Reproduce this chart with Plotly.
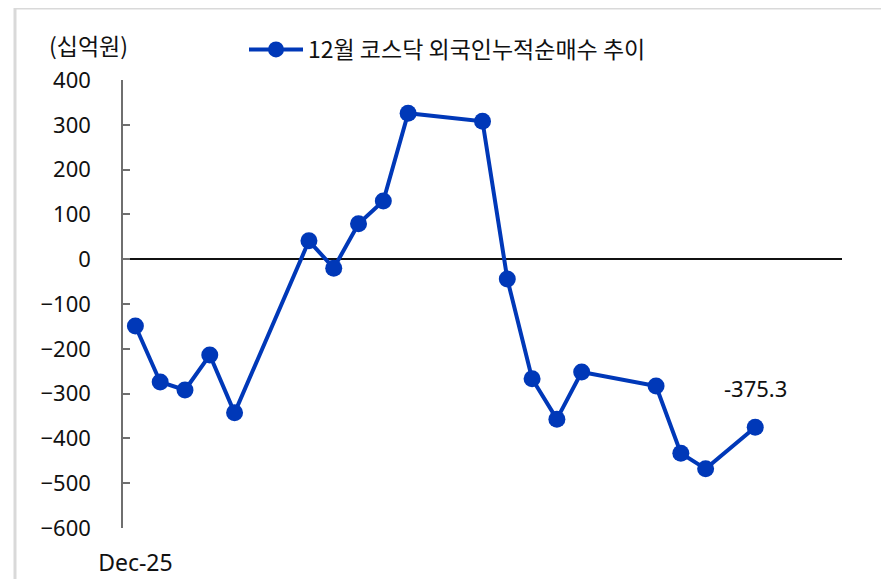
import plotly.graph_objects as go

dates = ["2025-12-01", "2025-12-02", "2025-12-03", "2025-12-04", "2025-12-05",
         "2025-12-08", "2025-12-09", "2025-12-10", "2025-12-11", "2025-12-12",
         "2025-12-15", "2025-12-16", "2025-12-17", "2025-12-18", "2025-12-19",
         "2025-12-22", "2025-12-23", "2025-12-24", "2025-12-26"]
values = [-149, -274, -292, -214, -343,
          41, -20, 79, 130, 326,
          308, -44, -267, -357, -252,
          -283, -433, -468, -375.3]
series_name = "12월 코스닥 외국인누적순매수 추이"
unit_label = "(십억원)"
y_ticks = [400, 300, 200, 100, 0, -100, -200, -300, -400, -500, -600]
x_tick_vals = ["2025-12-01"]
x_tick_text = ["Dec-25"]

FONT = "Noto Sans, Noto Sans CJK KR, sans-serif"
KFONT = "Noto Sans CJK KR, sans-serif"
BLUE = "#0038B8"

# page body has an 8px margin; work in screen pixels and convert
OFF = 8
W, H = 889 - OFF, 579 - OFF
L, R, T, B = 123 - OFF, 842 - OFF, 80 - OFF, 528 - OFF
pw, ph = R - L, B - T
def px(xs):
    return (xs - OFF - L) / pw
def py(ys):
    return (B - (ys - OFF)) / ph

fig = go.Figure()
fig.add_trace(go.Scatter(
    x=dates, y=values, mode="lines+markers", name=series_name,
    line=dict(color=BLUE, width=4),
    marker=dict(color=BLUE, size=17),
))

fig.add_annotation(x=dates[-1], y=values[-1], text=f"{values[-1]:.1f}",
                   showarrow=False, yshift=39, xshift=0,
                   font=dict(family=FONT, size=22, color="#111111"))
fig.add_annotation(xref="paper", yref="paper", x=px(88), y=py(45),
                   text=unit_label, showarrow=False, xanchor="center", yanchor="middle",
                   font=dict(family=KFONT, size=23, color="#111111"))

fig.add_shape(type="rect", xref="paper", yref="paper",
              x0=px(15), x1=px(883), y0=py(600), y1=py(8),
              line=dict(color="#d9d9d9", width=3), layer="below")

fig.update_layout(
    width=W, height=H,
    margin=dict(l=L, r=W - R, t=T, b=H - B, autoexpand=False),
    paper_bgcolor="white", plot_bgcolor="white",
    font=dict(family=FONT, size=22, color="#111111"),
    showlegend=True,
    legend=dict(xref="container", yref="container",
                x=(244 - OFF) / W, y=1 - (28 - OFF) / H,
                xanchor="left", yanchor="top",
                orientation="h", bgcolor="rgba(0,0,0,0)",
                font=dict(family=KFONT, size=23, color="#111111"),
                itemwidth=54),
    xaxis=dict(type="date", range=["2025-11-30 12:00", "2025-12-29 12:00"],
               tickvals=x_tick_vals, ticktext=x_tick_text, showgrid=False,
               showline=False, zeroline=False, ticks="", ticklabelstandoff=19,
               tickfont=dict(family=FONT, size=23, color="#111111")),
    yaxis=dict(range=[-600, 400], tickvals=y_ticks, showgrid=False,
               showline=True, linecolor="#6f6f6f", linewidth=1.5,
               ticks="inside", ticklen=7, tickcolor="#6f6f6f", tickwidth=1.5,
               zeroline=True, zerolinecolor="#111111", zerolinewidth=1.5,
               ticklabelstandoff=26,
               tickfont=dict(family=FONT, size=22, color="#111111")),
)

fig.write_html("out.html")
